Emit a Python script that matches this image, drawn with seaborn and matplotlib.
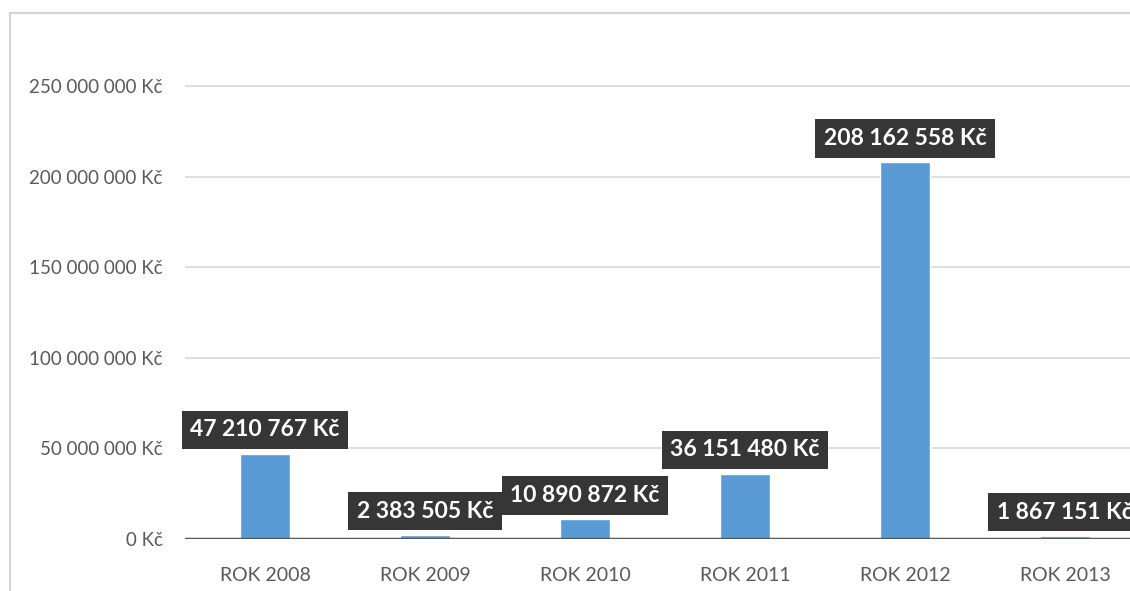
import pandas as pd
import matplotlib.pyplot as plt
import seaborn as sns
from matplotlib.patches import Rectangle

years = ["ROK 2008", "ROK 2009", "ROK 2010", "ROK 2011", "ROK 2012", "ROK 2013"]
amounts = [47210767, 2383505, 10890872, 36151480, 208162558, 1867151]
y_ticks = [0, 50000000, 100000000, 150000000, 200000000, 250000000]


def kc(v):
    return f"{v:,.0f}".replace(",", " ") + " Kč"


df = pd.DataFrame({"rok": years, "castka": amounts})

sns.set_style("white")
plt.rcParams["font.family"] = ["Lato", "DejaVu Sans"]

fig = plt.figure(figsize=(11.3, 5.91), dpi=100)
# frame of the original chart area (runs off the right and bottom edge)
fig.patches.append(Rectangle((10 / 1130, -0.1), 1.2, (591 - 13) / 591 + 0.1,
                             transform=fig.transFigure, fill=False,
                             ec="#d4d4d4", lw=1.5))

ax = fig.add_axes([185 / 1130, 52 / 591, 960 / 1130, 498 / 591])
sns.barplot(data=df, x="rok", y="castka", color="#5B9BD5", width=0.31,
            saturation=1, ax=ax, zorder=3)

ax.set_ylim(0, 275000000)
ax.set_xlim(-0.5, 5.5)
ax.set_yticks(y_ticks)
ax.set_yticklabels([kc(v) for v in y_ticks])
ax.grid(axis="y", color="#d9d9d9", lw=1.2, zorder=0)
ax.axhline(0, color="#595959", lw=2.5, zorder=4)
for s in ax.spines.values():
    s.set_visible(False)
ax.tick_params(axis="both", length=0, colors="#595959")
ax.tick_params(axis="y", pad=16, labelsize=13.5)
ax.tick_params(axis="x", pad=20, labelsize=14)
ax.set_xlabel("")
ax.set_ylabel("")

# the last label runs past the right edge, as in the original screenshot
for i, v in enumerate(amounts):
    ax.annotate(kc(v), (i, v), xytext=(0, 17), textcoords="offset points",
                ha="center", va="center", color="white", fontsize=16.5,
                fontweight="bold", zorder=6,
                bbox=dict(boxstyle="square,pad=0.38", fc="#363636", ec="none"))

plt.savefig("out.png", dpi=100)
plt.close()
